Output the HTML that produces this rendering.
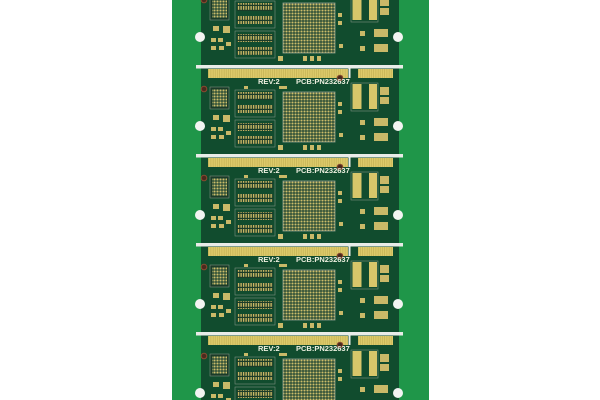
<!DOCTYPE html>
<html><head><meta charset="utf-8"><style>
html,body{margin:0;padding:0;background:#fff;width:600px;height:400px;overflow:hidden}
svg{display:block}
text{font-family:"Liberation Sans",sans-serif;font-weight:bold;fill:#eef0e0;font-size:7.5px}
</style></head><body>
<svg width="600" height="400" viewBox="0 0 600 400" xmlns="http://www.w3.org/2000/svg">
<defs>
<pattern id="bga" width="3" height="3" patternUnits="userSpaceOnUse">
<rect width="3" height="3" fill="#34533a"/><circle cx="1.5" cy="1.5" r="1.05" fill="#cdbd6a"/>
</pattern>
<pattern id="mem" width="2.5" height="5" patternUnits="userSpaceOnUse">
<rect width="2.5" height="5" fill="#1a3b28"/><rect x="0.4" y="0" width="1.4" height="3.8" fill="#c8b865"/>
</pattern>
<pattern id="fing" width="2.2" height="10" patternUnits="userSpaceOnUse">
<rect width="2.2" height="10" fill="#bfae50"/><rect x="0" width="1.6" height="10" fill="#ddca6a"/>
</pattern>
<g id="unit">
<rect x="196" y="0" width="207" height="3.5" fill="#e9ece8"/>
<rect x="348.5" y="0" width="2" height="13" fill="#e9ece8"/>
<rect x="208" y="4" width="140" height="9" fill="url(#fing)"/>
<rect x="358" y="4" width="35" height="9" fill="url(#fing)"/>
<rect x="210" y="22" width="19" height="22" fill="#1a3b28" stroke="#7d8f80" stroke-width="0.6"/>
<rect x="212" y="24" width="15" height="18" fill="url(#bga)"/>
<rect x="235" y="25" width="40" height="27" fill="none" stroke="#7d8f80" stroke-width="0.6"/>
<rect x="237" y="27" width="36" height="8" fill="url(#mem)"/>
<rect x="237" y="40" width="36" height="8" fill="url(#mem)"/>
<rect x="235" y="55" width="40" height="27" fill="none" stroke="#7d8f80" stroke-width="0.6"/>
<rect x="237" y="58" width="36" height="8" fill="url(#mem)"/>
<rect x="237" y="71" width="36" height="8" fill="url(#mem)"/>
<rect x="283" y="27" width="52" height="50" fill="url(#bga)" stroke="#8e9e90" stroke-width="0.8"/>
<rect x="351" y="18" width="27" height="28" fill="none" stroke="#7d8f80" stroke-width="0.6"/>
<rect x="352.5" y="19" width="9" height="25" fill="#d8c66a"/>
<rect x="369" y="19" width="8" height="25" fill="#d8c66a"/>
<rect x="380" y="22" width="9" height="8" fill="#c9b968"/>
<rect x="380" y="32" width="9" height="7" fill="#c9b968"/>
<rect x="374" y="53" width="14" height="8" fill="#c9b968"/>
<rect x="374" y="68" width="14" height="8" fill="#c9b968"/>
<rect x="360" y="55" width="5" height="5" fill="#c9b968"/>
<rect x="360" y="70" width="5" height="5" fill="#c9b968"/>
<rect x="338" y="37" width="4" height="4" fill="#c9b968"/>
<rect x="338" y="45" width="4" height="4" fill="#c9b968"/>
<rect x="339" y="68" width="4" height="4" fill="#c9b968"/>
<rect x="213" y="50" width="6" height="5" fill="#c9b968"/>
<rect x="223" y="50" width="7" height="7" fill="#c9b968"/>
<rect x="211" y="62" width="5" height="4" fill="#c9b968"/>
<rect x="218" y="62" width="5" height="4" fill="#c9b968"/>
<rect x="211" y="70" width="5" height="4" fill="#c9b968"/>
<rect x="219" y="70" width="5" height="4" fill="#c9b968"/>
<rect x="226" y="66" width="5" height="4" fill="#c9b968"/>
<rect x="278" y="80" width="5" height="5" fill="#c9b968"/>
<rect x="303" y="80" width="4" height="5" fill="#c9b968"/>
<rect x="310" y="80" width="4" height="5" fill="#c9b968"/>
<rect x="317" y="80" width="4" height="5" fill="#c9b968"/>
<rect x="244" y="21" width="4" height="3" fill="#c9b968"/>
<rect x="279" y="21" width="8" height="3" fill="#c9b968"/>
<circle cx="204" cy="24" r="2.8" fill="#4a2a1e" stroke="#8a4a30" stroke-width="1"/>
<circle cx="340" cy="13" r="2.8" fill="#4a2a1e" stroke="#8a4a30" stroke-width="1"/>
<circle cx="200" cy="61" r="5" fill="#f2f4f2"/>
<circle cx="398" cy="61" r="5" fill="#f2f4f2"/>
</g>
</defs>
<rect x="172" y="0" width="257" height="400" fill="#1f9649"/>
<rect x="201" y="0" width="198" height="400" fill="#114c2e"/>
<use href="#unit" y="-24"/>
<use href="#unit" y="65"/>
<use href="#unit" y="154"/>
<use href="#unit" y="243"/>
<use href="#unit" y="332"/>
<text x="258" y="84">REV:2</text><text x="296" y="84">PCB:PN232637</text>
<text x="258" y="173">REV:2</text><text x="296" y="173">PCB:PN232637</text>
<text x="258" y="262">REV:2</text><text x="296" y="262">PCB:PN232637</text>
<text x="258" y="351">REV:2</text><text x="296" y="351">PCB:PN232637</text>
</svg>
</body></html>
